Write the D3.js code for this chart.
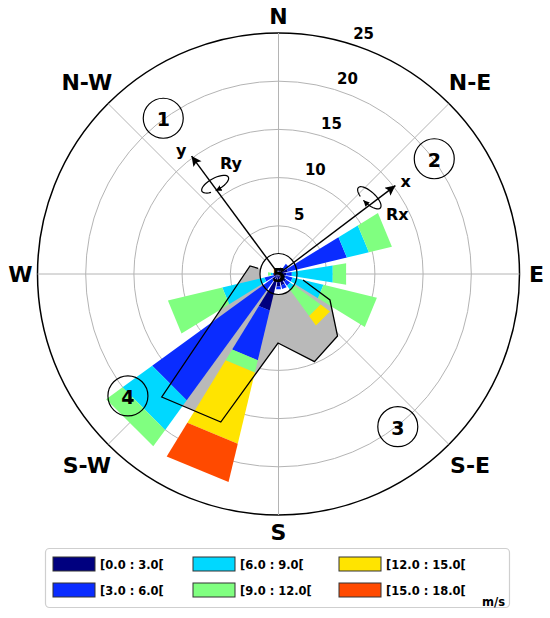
<!DOCTYPE html>
<html lang="en">
<head>
<meta charset="utf-8">
<title>Wind rose</title>
<script src="https://d3js.org/d3.v7.min.js"></script>
<style>
  body { margin: 0; background: #fff; }
  text { font-family: "DejaVu Sans", Verdana, sans-serif; font-weight: bold; fill: #000; }
</style>
</head>
<body>
<div id="rose"></div>
<script>
// 16 wind directions, clockwise from north
const directions = ["N","NNE","NE","ENE","E","ESE","SE","SSE","S","SSW","SW","WSW","W","WNW","NW","NNW"];
const speedBins = ["[0.0 : 3.0[","[3.0 : 6.0[","[6.0 : 9.0[","[9.0 : 12.0[","[12.0 : 15.0[","[15.0 : 18.0["];
const binColors = ["#00007f","#0a2cff","#00d8ff","#80ff80","#ffe400","#ff4a00"];

// frequency per direction, one list per speed bin
const f0_3   = [0.3,0.5,0.8,1.0,0.8,0.8,1.0,1.2,1.3,3.9,0.8,0.5,0.4,0.3,0.2,0.2];
const f3_6   = [0,0.2,0.5,6.3,0.6,0.7,0.5,0.4,0.3,5.3,15.4,1.0,0.2,0,0,0];
const f6_9   = [0,0,0,2.35,4.3,3.3,0.5,0,0,0,3.8,4.5,0.2,0,0,0];
const f9_12  = [0,0,0,2.45,1.4,5.7,3.4,0,0,1.3,2.1,5.8,0.3,0.2,0,0];
const f12_15 = [0,0,0,0,0,0,1.2,0,0,7.6,0,0,0,0,0,0];
const f15_18 = [0,0,0,0,0,0,0,0,0,4.1,0,0,0,0,0,0];

const ringTicks = [5, 10, 15, 20, 25];
const compassLabels = ["N","N-E","E","S-E","S","S-W","W","N-W"];

// sheltered zone (gray), vertices as [direction deg, value]
const shelterAngles = [285.7, 103.8, 116.8, 136.4, 157.7, 180.4, 201.3, 223.5];
const shelterValues = [3.07, 2.62, 5.98, 8.88, 9.83, 7.16, 16.48, 17.59];

// local axes x / y and numbered zones
const axisNames = ["x", "y"];
const axisAngles = [52.9, 323.6];
const zoneNumbers = ["1", "2", "3", "4"];
const zoneAngles = [323.5, 53.5, 142, 231];

const W = 550, H = 618;
const cx = 278.5, cy = 274;
const r = d3.scaleLinear().domain([0, 25]).range([0, 241]);
const ang = d3.scaleBand().domain(directions).range([-11.25, 348.75])
  .paddingInner(0.2).paddingOuter(0.1);

function pt(deg, rad) {
  const a = deg * Math.PI / 180;
  return [cx + rad * Math.sin(a), cy - rad * Math.cos(a)];
}

const svg = d3.select("#rose").append("svg")
  .attr("width", W).attr("height", H);

const defs = svg.append("defs");
defs.append("marker").attr("id", "head")
  .attr("viewBox", "0 0 10 10").attr("refX", 10).attr("refY", 5)
  .attr("markerWidth", 13).attr("markerHeight", 10)
  .attr("markerUnits", "userSpaceOnUse").attr("orient", "auto")
  .append("path").attr("d", "M0,0L10,5L0,10L2,5z").attr("fill", "#000");
defs.append("marker").attr("id", "small")
  .attr("viewBox", "0 0 10 10").attr("refX", 10).attr("refY", 5)
  .attr("markerWidth", 6).attr("markerHeight", 6)
  .attr("markerUnits", "userSpaceOnUse").attr("orient", "auto")
  .append("path").attr("d", "M0,0L10,5L0,10z").attr("fill", "#000");

// grid
svg.append("g").selectAll("circle").data(ringTicks).join("circle")
  .attr("cx", cx).attr("cy", cy).attr("r", d => r(d))
  .attr("fill", "none")
  .attr("stroke", d => d === 25 ? "#000" : "#b4b4b4")
  .attr("stroke-width", d => d === 25 ? 1.5 : 1);
svg.append("g").selectAll("line").data(compassLabels).join("line")
  .attr("x1", cx).attr("y1", cy)
  .attr("x2", (d, i) => pt(i * 45, r(25))[0])
  .attr("y2", (d, i) => pt(i * 45, r(25))[1])
  .attr("stroke", "#b4b4b4").attr("stroke-width", 1);

// gray sheltered polygon
const shelterPts = shelterAngles.map((a, i) => pt(a, r(shelterValues[i])));
svg.append("path")
  .attr("d", "M" + shelterPts.join("L") + "Z")
  .attr("fill", "#b9b9b9");

// zone 5 disc (white inside)
svg.append("ellipse").attr("cx", cx).attr("cy", cy)
  .attr("rx", 18.5).attr("ry", 20.5).attr("fill", "#fff");

// stacked wedges
const keys = speedBins;
const table = directions.map((d, i) => ({
  dir: d,
  [keys[0]]: f0_3[i], [keys[1]]: f3_6[i], [keys[2]]: f6_9[i],
  [keys[3]]: f9_12[i], [keys[4]]: f12_15[i], [keys[5]]: f15_18[i]
}));
const series = d3.stack().keys(keys)(table);

function wedge(d) {
  const a0 = ang(d.data.dir), a1 = a0 + ang.bandwidth();
  const p = d3.path();
  const q = [pt(a0, r(d[0])), pt(a0, r(d[1])), pt(a1, r(d[1])), pt(a1, r(d[0]))];
  p.moveTo(q[0][0], q[0][1]);
  for (let k = 1; k < 4; k++) p.lineTo(q[k][0], q[k][1]);
  p.closePath();
  return p.toString();
}

svg.append("g").selectAll("g").data(series).join("g")
  .attr("fill", (s, i) => binColors[i])
  .selectAll("path").data(s => s.filter(d => d[1] - d[0] > 0)).join("path")
  .attr("d", wedge);

// outline of the sheltered zone (open on the centre side)
const outline = shelterPts.slice(1).concat([shelterPts[0], pt(shelterAngles[0], r(2.2))]);
svg.append("path")
  .attr("d", "M" + outline.join("L"))
  .attr("fill", "none").attr("stroke", "#000").attr("stroke-width", 1.3);

// local axes
axisNames.forEach((n, i) => {
  const tip = pt(axisAngles[i], r(15.2));
  svg.append("line").attr("x1", cx).attr("y1", cy)
    .attr("x2", tip[0]).attr("y2", tip[1])
    .attr("stroke", "#000").attr("stroke-width", 1.4)
    .attr("marker-end", "url(#head)");
  const lp = pt(axisAngles[i] + (i === 0 ? 1.2 : -1.8), r(16.3));
  svg.append("text").attr("x", lp[0]).attr("y", lp[1])
    .attr("text-anchor", "middle").attr("dominant-baseline", "central")
    .attr("font-size", 16).text(n);
});

// rotation loops Rx / Ry
const loopLine = d3.line();
const loopPts = d3.range(120, 470, 10).map(t => {
  const a = t * Math.PI / 180;
  return [15 * Math.cos(a), 6 * Math.sin(a)];
});
const loopCentres = [pt(50, r(12.3)), pt(324.8, r(11.4))];
const loopTurn = [52.9 - 10, 323.6 + 8];
loopCentres.forEach((c, i) => {
  svg.append("path")
    .attr("transform", `translate(${c[0]},${c[1]}) rotate(${loopTurn[i]})`)
    .attr("d", loopLine(loopPts))
    .attr("fill", "none").attr("stroke", "#000").attr("stroke-width", 1.2)
    .attr("marker-end", "url(#small)");
});
const rotLabels = ["Rx", "Ry"];
const rotLabelPos = [pt(63.2, r(13.8)), pt(336.7, r(12.45))];
rotLabels.forEach((t, i) => {
  svg.append("text").attr("x", rotLabelPos[i][0]).attr("y", rotLabelPos[i][1])
    .attr("text-anchor", "middle").attr("dominant-baseline", "central")
    .attr("font-size", 16).text(t);
});

// numbered zones
zoneNumbers.forEach((n, i) => {
  const c = pt(zoneAngles[i], r(20.1));
  svg.append("circle").attr("cx", c[0]).attr("cy", c[1]).attr("r", 20)
    .attr("fill", "none").attr("stroke", "#000").attr("stroke-width", 1.2);
  svg.append("text").attr("x", c[0]).attr("y", c[1] + 1)
    .attr("text-anchor", "middle").attr("dominant-baseline", "central")
    .attr("font-size", 19).text(n);
});
svg.append("ellipse").attr("cx", cx).attr("cy", cy)
  .attr("rx", 18.5).attr("ry", 20.5)
  .attr("fill", "none").attr("stroke", "#000").attr("stroke-width", 1.2);
svg.append("text").attr("x", cx + 0.5).attr("y", cy + 1)
  .attr("text-anchor", "middle").attr("dominant-baseline", "central")
  .attr("font-size", 20).text("5");

// ring values
svg.append("g").selectAll("text").data(ringTicks).join("text")
  .attr("x", d => pt(19.5, r(d) + 14)[0])
  .attr("y", d => pt(19.5, r(d) + 14)[1])
  .attr("text-anchor", "middle").attr("dominant-baseline", "central")
  .attr("font-size", 15).text(d => d);

// compass labels
svg.append("g").selectAll("text").data(compassLabels).join("text")
  .attr("x", (d, i) => pt(i * 45, r(25) + (d.length > 1 ? 30 : 17))[0])
  .attr("y", (d, i) => pt(i * 45, r(25) + (d.length > 1 ? 30 : 17))[1])
  .attr("text-anchor", "middle").attr("dominant-baseline", "central")
  .attr("font-size", 22).text(d => d);

// legend
const lg = svg.append("g");
lg.append("rect").attr("x", 45.5).attr("y", 548.5).attr("width", 464).attr("height", 59)
  .attr("rx", 4).attr("fill", "#fff").attr("stroke", "#cfcfcf").attr("stroke-width", 1.2);
const colX = [53, 193, 339], rowY = [557, 583];
const items = lg.selectAll("g.item").data(speedBins).join("g").attr("class", "item")
  .attr("transform", (d, i) => `translate(${colX[Math.floor(i / 2)]},${rowY[i % 2]})`);
items.append("rect").attr("width", 42).attr("height", 14)
  .attr("fill", (d, i) => binColors[i]).attr("stroke", "#333").attr("stroke-width", 1);
items.append("text").attr("x", 47).attr("y", 11.5)
  .attr("font-size", 11.5).text(d => d);
lg.append("text").attr("x", 505).attr("y", 606).attr("text-anchor", "end")
  .attr("font-size", 11.5).text("m/s");
</script>
</body>
</html>
